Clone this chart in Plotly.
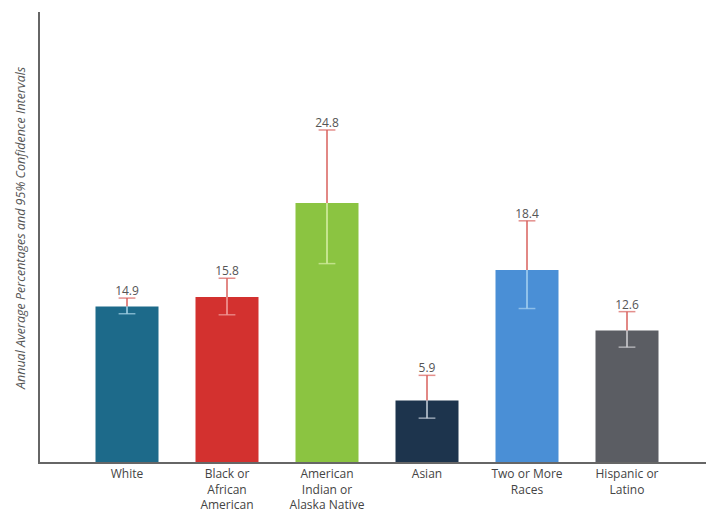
import plotly.graph_objects as go

categories = ["White", "Black or<br>African<br>American", "American<br>Indian or<br>Alaska Native",
              "Asian", "Two or More<br>Races", "Hispanic or<br>Latino"]
values = [14.9, 15.8, 24.8, 5.9, 18.4, 12.6]
ci_upper = [0.8, 1.8, 7.0, 2.4, 4.7, 1.8]
ci_lower = [0.7, 1.7, 5.8, 1.7, 3.7, 1.6]
value_labels = ["14.9", "15.8", "24.8", "5.9", "18.4", "12.6"]

bar_colors = ["#1d6a8a", "#d3312f", "#8bc441", "#1d344d", "#4a8fd6", "#5b5d63"]
lower_colors = ["#a9d6e8", "#f3a3a0", "#d8f0a8", "#c9d3de", "#a9d3f2", "#d3d3d6"]
upper_color = "#d9605c"

x_idx = list(range(len(categories)))

fig = go.Figure()
fig.add_trace(go.Bar(
    x=x_idx, y=values, width=0.63,
    marker=dict(color=bar_colors, line=dict(width=0)),
    showlegend=False, hoverinfo="skip",
))
for i in x_idx:
    # upper half of the confidence interval (red), cap only at the top end
    fig.add_trace(go.Scatter(
        x=[i, i], y=[values[i], values[i] + ci_upper[i]], mode="lines+markers",
        line=dict(color=upper_color, width=1.5),
        marker=dict(symbol="line-ew", size=[0, 12], color=upper_color,
                    line=dict(color=upper_color, width=1.5)),
        showlegend=False, hoverinfo="skip",
    ))
    # lower half (light tint of bar colour), cap only at the bottom end
    fig.add_trace(go.Scatter(
        x=[i, i], y=[values[i], values[i] - ci_lower[i]], mode="lines+markers",
        line=dict(color=lower_colors[i], width=1.5),
        marker=dict(symbol="line-ew", size=[0, 12], color=lower_colors[i],
                    line=dict(color=lower_colors[i], width=1.5)),
        showlegend=False, hoverinfo="skip",
    ))
fig.add_trace(go.Scatter(
    x=x_idx, y=[v + u for v, u in zip(values, ci_upper)], mode="text",
    text=value_labels, textposition="top center",
    textfont=dict(family="Open Sans, sans-serif", size=12, color="#555555"),
    showlegend=False, hoverinfo="skip",
))

fig.add_annotation(
    text="<i>Annual Average Percentages and 95% Confidence Intervals</i>",
    xref="paper", yref="paper", x=-0.03, y=0.52, textangle=-90,
    showarrow=False, xanchor="center", yanchor="middle",
    font=dict(family="Open Sans, sans-serif", size=12.5, color="#555555"),
)

fig.update_layout(
    width=706, height=523,
    margin=dict(l=40, r=0, t=12, b=61),
    plot_bgcolor="white", paper_bgcolor="white",
    font=dict(family="Open Sans, sans-serif", size=12, color="#444444"),
    xaxis=dict(range=[-0.87, 5.79], tickmode="array", tickvals=x_idx, ticktext=categories,
               showline=True, linecolor="#666666", linewidth=1.5, showgrid=False,
               zeroline=False, ticks="", fixedrange=True,
               tickfont=dict(size=12, color="#444444")),
    yaxis=dict(range=[0, 43.1], showline=True, linecolor="#666666", linewidth=1.5,
               showgrid=False, zeroline=False, showticklabels=False, ticks=""),
)

fig.write_html("out.html")
